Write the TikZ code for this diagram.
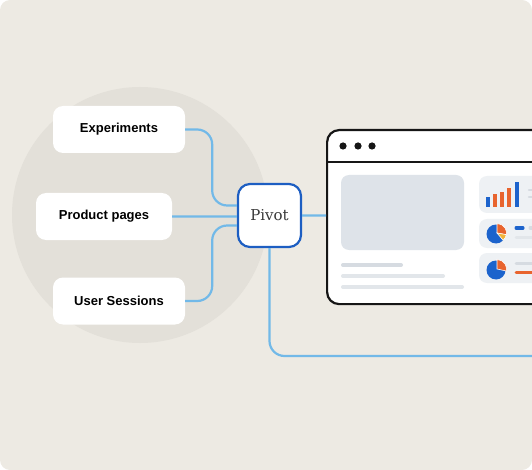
\documentclass[tikz,border=0pt]{standalone}
\usepackage{fontspec}
\newfontfamily\labelfont{Liberation Sans}
\newfontfamily\pivotfont{DejaVu Serif}
\usetikzlibrary{positioning,calc}

\definecolor{paper}{HTML}{EDEAE3}
\definecolor{disc}{HTML}{E3E0D9}
\definecolor{linkblue}{HTML}{72B9E8}
\definecolor{pivotblue}{HTML}{1D5EC2}
\definecolor{ink}{HTML}{161616}
\definecolor{panel}{HTML}{DEE3E9}
\definecolor{card}{HTML}{EEF1F4}
\definecolor{textbar}{HTML}{D6DBE1}
\definecolor{chartblue}{HTML}{1C63CC}
\definecolor{chartorange}{HTML}{E8642E}
\definecolor{chartyellow}{HTML}{F2B33A}

\tikzset{
  srcbox/.style={rectangle, fill=white, rounded corners=10pt,
                 minimum height=47pt},
  srclabel/.style={font=\labelfont\bfseries\fontsize{13}{15}\selectfont},
  link/.style={draw=linkblue, line width=2.2pt, rounded corners=15pt},
  textline/.style={line width=4pt, line cap=round, draw=textbar}
}

\begin{document}
\begin{tikzpicture}[x=1pt,y=-1pt]

    \useasboundingbox (0,0) rectangle (532,470);
    \clip[rounded corners=10pt] (0,0) rectangle (532,470);
    \fill[paper] (0,0) rectangle (532,470);
    \fill[disc] (140,215) circle (128pt);

    % sources
    \node[srcbox,
          minimum width = 132pt
          ] (exp) at (119,129.5) {};
    \node[srclabel] (exptxt) at (exp.center) {Experiments};

    \node[srcbox,
          minimum width = 136pt
          ] (prod) at (104,216.5) {};
    \node[srclabel] (prodtxt) at (prod.center) {Product pages};

    \node[srcbox,
          minimum width = 132pt
          ] (sess) at (119,301) {};
    \node[srclabel] (sesstxt) at (sess.center) {User Sessions};

    % pivot
    \node[rectangle,
          draw = pivotblue,
          line width = 2.2pt,
          fill = white,
          rounded corners = 12pt,
          minimum width = 63pt,
          minimum height = 63pt
          ] (pivot) at (269.5,215.5) {};
    \node[font=\pivotfont\fontsize{15}{17}\selectfont, text=ink!85] (pivottxt) at (pivot.center) {Pivot};

    % browser window
    \node[rectangle,
          draw = ink,
          line width = 2.2pt,
          fill = white,
          rounded corners = 12pt,
          minimum width = 260pt,
          minimum height = 174pt,
          anchor = north west
          ] (browser) at (326,129) {};
    \draw[ink, line width=2pt] (browser.west |- 0,162) -- (browser.east |- 0,162);
    \foreach \dx in {0,15,29}
        \fill[ink] (343+\dx,146) circle (3.6pt);

    \coordinate (pin1) at ([yshift=10pt]pivot.west);
    \coordinate (pin3) at ([yshift=-10pt]pivot.west);
    \coordinate (tail) at (545,356);

    \path[link]
    (exp.east) -- ++(27,0) |- (pin1)
    (prod.east) -- (prod.east -| pivot.west)
    (sess.east) -- ++(27,0) |- (pin3)
    (pivot.east) -- (pivot.east -| browser.west)
    (pivot.south) |- (tail);

    % page content
    \fill[panel, rounded corners=8pt] (341,175) rectangle (464,250);
    \draw[textline] (343,265) -- (401,265);
    \draw[textline, draw=textbar!70] (343,276) -- (443,276);
    \draw[textline, draw=textbar!70] (343,287) -- (462,287);

    % cards
    \fill[card, rounded corners=8pt] (479,176) rectangle (560,213);
    \fill[card, rounded corners=8pt] (479,219) rectangle (560,248);
    \fill[card, rounded corners=8pt] (479,253) rectangle (560,283);

    % bar chart
    \fill[chartblue] (486,207) rectangle (490,197);
    \fill[chartorange] (493,207) rectangle (497,194);
    \fill[chartorange] (500,207) rectangle (504,192);
    \fill[chartorange] (507,207) rectangle (511,188);
    \fill[chartblue] (515,207) rectangle (519,182);
    \draw[textline, line width=2.5pt] (529,190) -- (540,190);
    \draw[textline, line width=2.5pt] (529,197) -- (540,197);

    % pie charts
    \fill[chartblue] (496,234) circle (9.5pt);
    \fill[chartorange, draw=white, line width=0.6pt] (497,233) -- ++(90:9.5pt)
        arc[start angle=90, end angle=-10, radius=9.5pt] -- cycle;
    \fill[chartyellow, draw=white, line width=0.6pt] (497,233) -- ++(-10:9.5pt)
        arc[start angle=-10, end angle=-50, radius=9.5pt] -- cycle;
    \draw[line width=3pt, line cap=round, chartblue] (516,228) -- (523,228);
    \draw[textline, line width=3pt] (530,228) -- (540,228);
    \draw[textline, line width=3pt, draw=textbar!70] (516,237) -- (540,237);

    \fill[chartblue] (496,270) circle (9.5pt);
    \fill[chartorange, draw=white, line width=0.6pt] (497,269) -- ++(90:9.5pt)
        arc[start angle=90, end angle=-12, radius=9.5pt] -- cycle;
    \draw[textline, line width=3pt] (516,263) -- (540,263);
    \draw[line width=3pt, line cap=round, chartorange] (516,272) -- (540,272);

\end{tikzpicture}
\end{document}
